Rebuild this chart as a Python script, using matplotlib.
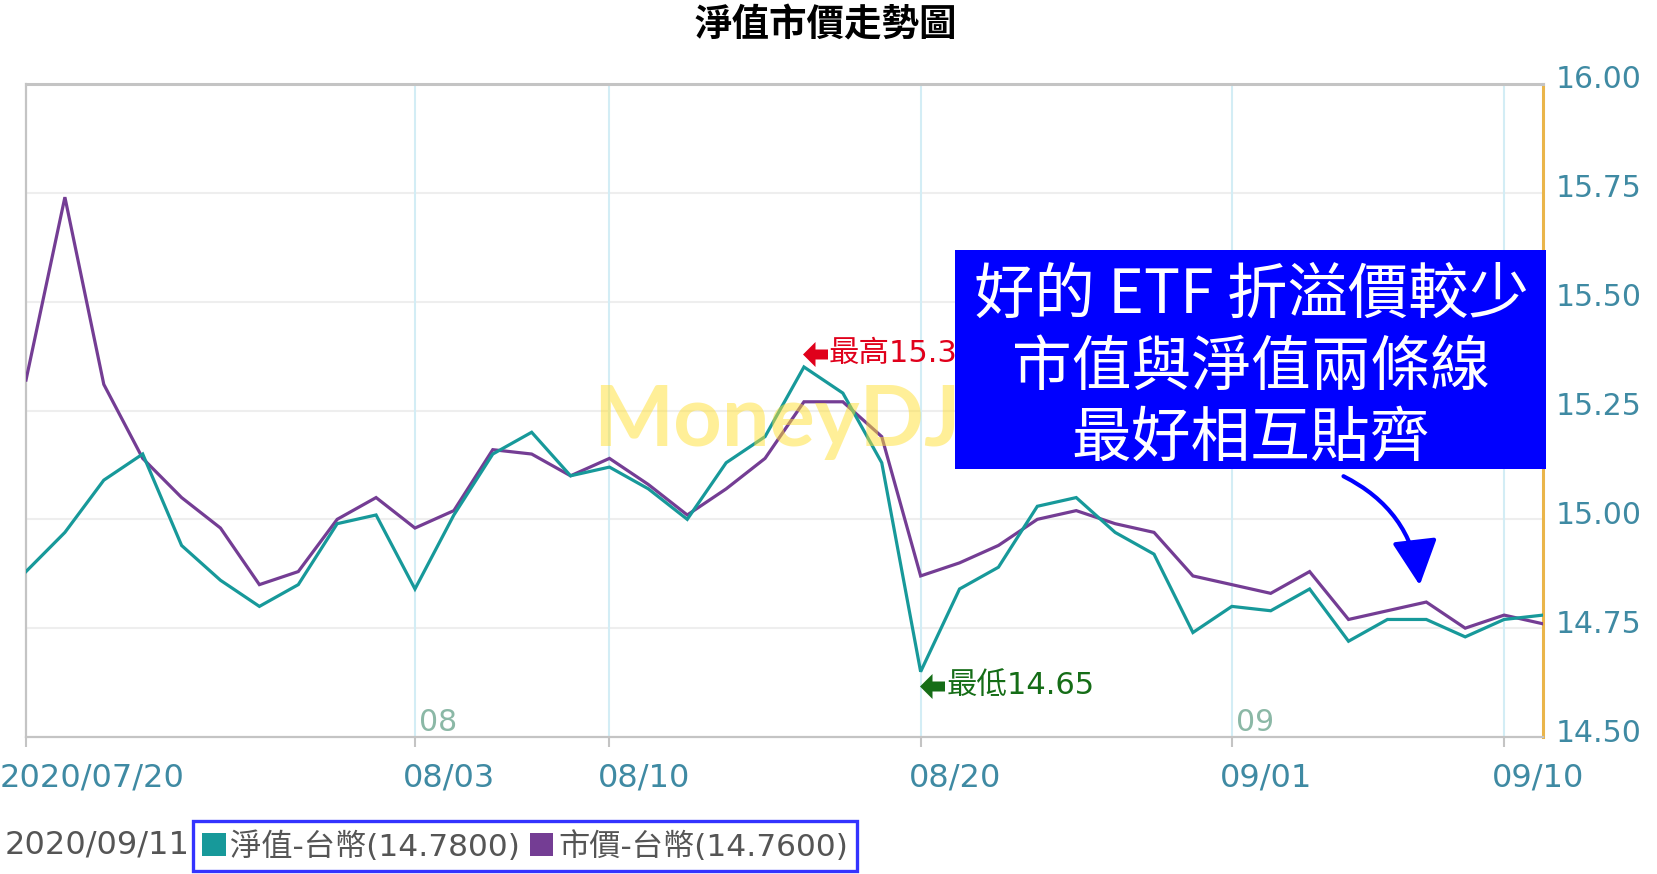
import matplotlib
matplotlib.use("Agg")
import matplotlib.pyplot as plt
import matplotlib.transforms as mtransforms
from matplotlib.patches import Rectangle, FancyArrowPatch, ArrowStyle, Patch

plt.rcParams['font.family'] = ['Noto Sans CJK TC', 'DejaVu Sans']

# ---------------- data ----------------
dates = ['07/20', '07/21', '07/22', '07/23', '07/24', '07/27', '07/28', '07/29', '07/30', '07/31',
         '08/03', '08/04', '08/05', '08/06', '08/07', '08/10', '08/11', '08/12', '08/13', '08/14',
         '08/17', '08/18', '08/19', '08/20', '08/21', '08/24', '08/25', '08/26', '08/27', '08/28',
         '08/31', '09/01', '09/02', '09/03', '09/04', '09/07', '09/08', '09/09', '09/10', '09/11']

nav = [14.88, 14.97, 15.09, 15.15, 14.94, 14.86, 14.80, 14.85, 14.99, 15.01,
       14.84, 15.01, 15.15, 15.20, 15.10, 15.12, 15.07, 15.00, 15.13, 15.19,
       15.35, 15.29, 15.13, 14.65, 14.84, 14.89, 15.03, 15.05, 14.97, 14.92,
       14.74, 14.80, 14.79, 14.84, 14.72, 14.77, 14.77, 14.73, 14.77, 14.78]

price = [15.32, 15.74, 15.31, 15.14, 15.05, 14.98, 14.85, 14.88, 15.00, 15.05,
         14.98, 15.02, 15.16, 15.15, 15.10, 15.14, 15.08, 15.01, 15.07, 15.14,
         15.27, 15.27, 15.19, 14.87, 14.90, 14.94, 15.00, 15.02, 14.99, 14.97,
         14.87, 14.85, 14.83, 14.88, 14.77, 14.79, 14.81, 14.75, 14.78, 14.76]

tick_dates = ['07/20', '08/03', '08/10', '08/20', '09/01', '09/10']
tick_labels = ['2020/07/20', '08/03', '08/10', '08/20', '09/01', '09/10']
month_dates = ['08/03', '09/01']
month_labels = ['08', '09']
y_ticks = [14.50, 14.75, 15.00, 15.25, 15.50, 15.75, 16.00]
last_date = '2020/09/11'
title = '淨值市價走勢圖'
nav_name = '淨值-台幣'
price_name = '市價-台幣'
note_lines = ['好的 ETF 折溢價較少', '市值與淨值兩條線', '最好相互貼齊']

# ---------------- styling ----------------
W, H = 1658, 874
C_NAV = '#17999a'
C_PRICE = '#743d94'
C_TICK = '#3f8aa3'
C_MONTH = '#8bb8a6'
C_GRID_V = '#d3edf5'
C_GRID_H = '#eeeeee'
C_AXIS = '#c4c4c4'
C_RIGHT = '#eab54a'
C_BLUE = '#0000ff'
MIXED = ['DejaVu Sans', 'Noto Sans CJK TC']

def fx(px):
    return px / W

def fy(py):
    return 1 - py / H

fig = plt.figure(figsize=(W / 100, H / 100), dpi=100)
left, right, top, bottom = 26, 1543, 84, 737
ax = fig.add_axes([fx(left), fy(bottom), fx(right) - fx(left), fy(top) - fy(bottom)])

x = list(range(len(dates)))
ax.set_xlim(0, len(dates) - 1)
ax.set_ylim(y_ticks[0], y_ticks[-1])

# grids
for v in y_ticks[1:-1]:
    ax.axhline(v, color=C_GRID_H, lw=1.5, zorder=1)
tick_idx = [dates.index(d) for d in tick_dates]
for i in tick_idx[1:]:
    ax.axvline(i, color=C_GRID_V, lw=1.5, zorder=1)

# lines
ax.plot(x, price, color=C_PRICE, lw=2.3, zorder=3, solid_joinstyle='miter')
ax.plot(x, nav, color=C_NAV, lw=2.3, zorder=4, solid_joinstyle='miter')

# spines
for s in ['left', 'bottom']:
    ax.spines[s].set_color(C_AXIS)
    ax.spines[s].set_linewidth(1.6)
ax.spines['top'].set_color(C_AXIS)
ax.spines['top'].set_linewidth(2.2)
ax.spines['right'].set_color(C_RIGHT)
ax.spines['right'].set_linewidth(2.2)

# x ticks
ax.set_xticks(tick_idx)
ax.set_xticklabels(tick_labels, family='DejaVu Sans', fontsize=23, color=C_TICK, ha='left')
ax.tick_params(axis='x', length=7, width=1.5, color=C_AXIS, pad=11)
for lab, idx in zip(ax.get_xticklabels(), tick_idx):
    shift = -26 if idx == 0 else -12
    lab.set_transform(lab.get_transform() + mtransforms.ScaledTranslation(shift / 100, 0, fig.dpi_scale_trans))

# y ticks on right
ax.yaxis.tick_right()
ax.set_yticks(y_ticks)
ax.set_yticklabels([f'{v:.2f}' for v in y_ticks], family='DejaVu Sans', fontsize=21.5, color=C_TICK)
ax.tick_params(axis='y', length=0, pad=9)
for lab in ax.get_yticklabels():
    lab.set_transform(lab.get_transform() + mtransforms.ScaledTranslation(0, 7 / 100, fig.dpi_scale_trans))

# month labels
for d, m in zip(month_dates, month_labels):
    ax.annotate(m, xy=(dates.index(d), y_ticks[0]), xytext=(3, 0), textcoords='offset points',
                ha='left', va='bottom', fontsize=21.5, color=C_MONTH, family='DejaVu Sans', zorder=2)

# watermark (drawn on top, translucent)
ax.text(19.3, 15.225, 'MoneyDJ', fontsize=61, fontweight='bold', family='Lato',
        color='#ffe033', alpha=0.5, ha='center', va='center', zorder=6)

# high / low markers
arrow_marker = [(-1, 0), (0, 1), (0, 0.4), (1, 0.4), (1, -0.4), (0, -0.4), (0, -1), (-1, 0)]
hi_i = nav.index(max(nav))
lo_i = nav.index(min(nav))
hi_tr = mtransforms.offset_copy(ax.transData, fig=fig, x=11, y=13, units='dots')
lo_tr = mtransforms.offset_copy(ax.transData, fig=fig, x=11, y=-14, units='dots')
ax.plot([hi_i], [nav[hi_i]], marker=arrow_marker, ms=18, color='#e0001b', mec='none', transform=hi_tr, zorder=5, clip_on=False)
ax.plot([lo_i], [nav[lo_i]], marker=arrow_marker, ms=18, color='#156d17', mec='none', transform=lo_tr, zorder=5, clip_on=False)
ax.annotate(f'最高{max(nav):.2f}', xy=(hi_i, nav[hi_i]), xytext=(25 * 0.72, 13 * 0.72), textcoords='offset points',
            ha='left', va='center', fontsize=22, color='#e0001b', family=MIXED, zorder=5)
ax.annotate(f'最低{min(nav):.2f}', xy=(lo_i, nav[lo_i]), xytext=(26 * 0.72, -14 * 0.72), textcoords='offset points',
            ha='left', va='center', fontsize=22, color='#156d17', family=MIXED, zorder=5)

# title
fig.text(fx(826), fy(24), title, ha='center', va='center', fontsize=27, fontweight='bold', color='black')

# blue note box
fig.add_artist(Rectangle((fx(955), fy(469)), fx(1546) - fx(955), fy(250) - fy(469),
                         transform=fig.transFigure, facecolor=C_BLUE, edgecolor='none', zorder=10))
for line, yy, fs in zip(note_lines, [296, 368, 439], [43.5, 43, 43]):
    fig.text(fx(1251), fy(yy), line, ha='center', va='center', fontsize=fs, color='white', zorder=11)

arrow = FancyArrowPatch((fx(1341), fy(475)), (fx(1420), fy(588)), transform=fig.transFigure,
                        connectionstyle='arc3,rad=-0.28',
                        arrowstyle=ArrowStyle('-|>', head_length=1.0, head_width=0.5),
                        mutation_scale=28, lw=3.0, color=C_BLUE, zorder=10)
fig.add_artist(arrow)

# bottom legend
fig.text(fx(5), fy(845), last_date, ha='left', va='center', fontsize=23, color='#555555', family='DejaVu Sans')
handles = [Patch(facecolor=C_NAV, edgecolor='none'), Patch(facecolor=C_PRICE, edgecolor='none')]
labels = [f'{nav_name}({nav[-1]:.4f})', f'{price_name}({price[-1]:.4f})']
leg = fig.legend(handles, labels, loc='lower left', bbox_to_anchor=(fx(193), fy(871)), ncol=2,
                 prop={'family': MIXED, 'size': 22.5}, frameon=True, fancybox=False,
                 handlelength=0.75, handleheight=0.75,
                 handletextpad=0.15, columnspacing=0.3, borderpad=0.3, borderaxespad=0,
                 labelcolor='#555555')
leg.get_frame().set_edgecolor(C_BLUE)
leg.get_frame().set_linewidth(2.4)

fig.savefig('out.png', dpi=100, facecolor='white')
